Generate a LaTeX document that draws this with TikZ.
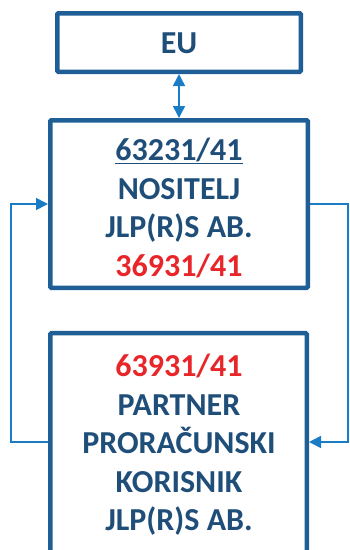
\documentclass[tikz,border=0pt]{standalone}
\usepackage{fontspec}
\setmainfont{Carlito}
\usetikzlibrary{arrows.meta}
\definecolor{boxblue}{HTML}{1F5F96}
\definecolor{txtblue}{HTML}{1F4E79}
\definecolor{arrblue}{HTML}{1A7CC4}
\definecolor{txtred}{HTML}{E8262A}
\begin{document}
\begin{tikzpicture}[x=1pt,y=-1pt,
  box/.style={draw=boxblue,line width=4.5pt,rounded corners=1pt,inner sep=0pt},
  lbl/.style={font=\fontsize{32}{38.5}\selectfont\bfseries,text=txtblue,align=center,inner sep=0pt},
  conn/.style={draw=arrblue,line width=1.6pt},
  tip/.style={-{Triangle[length=12pt,width=12pt]}},
  dtip/.style={{Triangle[length=12pt,width=12pt]}-{Triangle[length=12pt,width=12pt]}}]
\useasboundingbox (0,0) rectangle (349,550);
\clip (0,0) rectangle (349,550);
\node[box,minimum width=243.5pt,minimum height=58.5pt] (eu) at (179,42.5) {};
\node[lbl] (eut) at (179,43) {EU};
\node[box,minimum width=257.5pt,minimum height=167.5pt] (top) at (179,204) {};
\node[lbl] (topt) at (179,208) {\underline{63231/41}\\NOSITELJ\\JLP(R)S AB.\\\textcolor{txtred}{36931/41}};
\node[box,minimum width=256.5pt,minimum height=266.75pt] (bot) at (178.5,466.6) {};
\node[lbl] (bott) at (179,445) {\textcolor{txtred}{63931/41}\\PARTNER\\PRORAČUNSKI\\KORISNIK\\JLP(R)S AB.};
\coordinate (lb) at (11,442);
\coordinate (lt) at (11,204);
\coordinate (rt) at (348,204);
\coordinate (rb) at (348,442);
\draw[conn,dtip] (eu.south) -- (top.north);
\draw[conn,tip] (bot.west |- lb) -- (lb) -- (lt) -- (top.west);
\draw[conn,tip] (top.east) -- (rt) -- (rb) -- (bot.east |- rb);
\end{tikzpicture}
\end{document}
